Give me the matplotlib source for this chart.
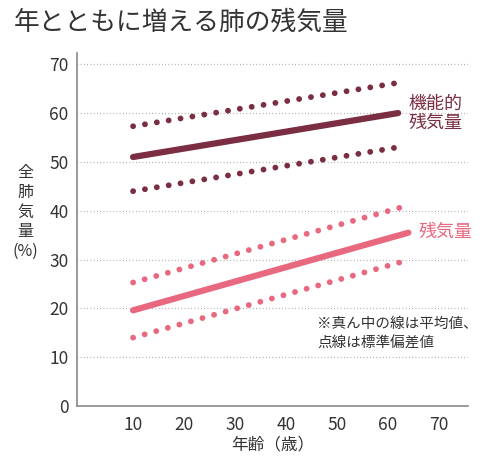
import numpy as np
import matplotlib
matplotlib.use('Agg')
import matplotlib.pyplot as plt

plt.rcParams['font.family'] = ['Noto Sans CJK JP', 'DejaVu Sans']

# データ
ages = [10, 62]
func_mean = [51.0, 60.0]
func_upper = [57.3, 66.2]
func_lower = [44.0, 53.0]

ages_res = [10, 64]
res_mean = [19.6, 35.5]
res_upper = [25.3, 41.1]
res_lower = [14.0, 29.9]

xticks = [10, 20, 30, 40, 50, 60, 70]
yticks = [0, 10, 20, 30, 40, 50, 60, 70]

MAROON = '#7b2d42'
PINK = '#e8697f'
TEXT = '#333333'

fig = plt.figure(figsize=(5.0, 4.63), dpi=100)
ax = fig.add_axes([0.154, 0.1231, 0.782, 0.7624])

# 補助線
for y in yticks[1:]:
    ax.axhline(y, color='#9a9a9a', lw=0.9, ls=(0, (0.6, 2.0)), zorder=1)

dot = (0, (0.01, 2.05))
ax.plot(ages, func_upper, color=MAROON, lw=4.2, ls=dot, dash_capstyle='round', zorder=3)
ax.plot(ages, func_lower, color=MAROON, lw=4.2, ls=dot, dash_capstyle='round', zorder=3)
ax.plot(ages, func_mean, color=MAROON, lw=4.5, solid_capstyle='round', zorder=3)

ax.plot(ages_res, res_upper, color=PINK, lw=4.2, ls=dot, dash_capstyle='round', zorder=3)
ax.plot(ages_res, res_lower, color=PINK, lw=4.2, ls=dot, dash_capstyle='round', zorder=3)
ax.plot(ages_res, res_mean, color=PINK, lw=4.5, solid_capstyle='round', zorder=3)

ax.set_xlim(-1.0, 75.7)
ax.set_ylim(0, 72.3)
ax.set_xticks(xticks)
ax.set_yticks(yticks)
ax.tick_params(length=0, labelsize=12.5, labelcolor=TEXT)
ax.tick_params(axis='y', pad=6)
ax.tick_params(axis='x', pad=7)

for s in ['top', 'right']:
    ax.spines[s].set_visible(False)
for s in ['left', 'bottom']:
    ax.spines[s].set_color('#8a8a8a')
    ax.spines[s].set_linewidth(1.2)

ax.set_xlabel('年齢（歳）', fontsize=12, color=TEXT, labelpad=2)

# 注記
ax.text(64.1, 60.0, '機能的\n残気量', color=MAROON, fontsize=13,
        va='center', ha='left', linespacing=1.1)
ax.text(66.1, 35.6, '残気量', color=PINK, fontsize=13, va='center', ha='left')
ax.text(46.1, 14.8, '※真ん中の線は平均値、\n点線は標準偏差値', color=TEXT, fontsize=10.5,
        va='center', ha='left', linespacing=1.45)

fig.text(0.05, 0.542, '全\n肺\n気\n量\n(%)', color=TEXT, fontsize=11.5,
         ha='center', va='center', linespacing=1.2)

fig.text(0.028, 0.950, '年とともに増える肺の残気量', color=TEXT, fontsize=18.5,
         ha='left', va='center')

fig.savefig('out.png', dpi=100)
